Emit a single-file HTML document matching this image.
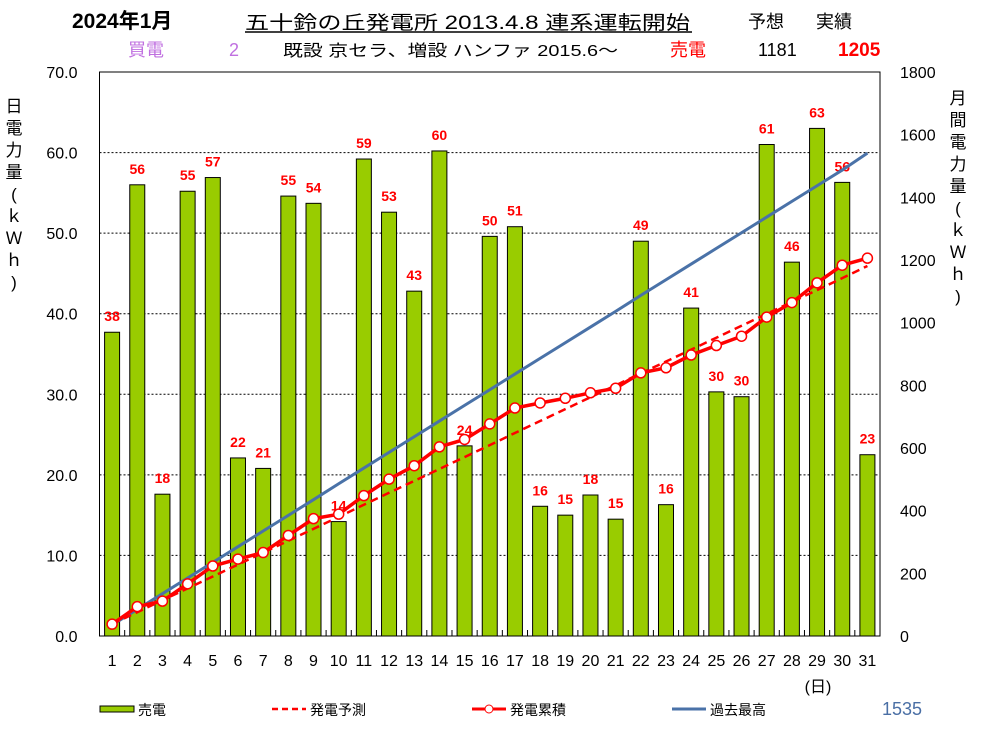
<!DOCTYPE html>
<html><head><meta charset="utf-8"><style>
body{margin:0;background:#fff;}
svg{display:block;font-family:"Liberation Sans","Noto Sans CJK JP",sans-serif;}
</style></head><body>
<svg id="c" width="981" height="738" xmlns="http://www.w3.org/2000/svg">
<text x="72" y="28" font-size="21" font-weight="bold">2024年1月</text>
<text x="245" y="29" font-size="19" textLength="445" lengthAdjust="spacingAndGlyphs">五十鈴の丘発電所  2013.4.8  連系運転開始</text>
<line x1="245" y1="32" x2="692" y2="32" stroke="#000" stroke-width="1.5"/>
<text x="748" y="28" font-size="18">予想</text>
<text x="816" y="28" font-size="18">実績</text>
<text x="128" y="56" font-size="18" fill="#c070e0">買電</text>
<text x="229" y="56" font-size="18" fill="#c070e0">2</text>
<text x="283" y="56" font-size="16" textLength="335" lengthAdjust="spacingAndGlyphs">既設  京セラ、増設  ハンファ  2015.6～</text>
<text x="670" y="56" font-size="18" fill="#f00">売電</text>
<text x="758" y="56" font-size="18">1181</text>
<text x="838" y="56" font-size="19" font-weight="bold" fill="#f00">1205</text>
<g id="plot"></g>
<text x="882" y="715" font-size="18" fill="#4a6fa5">1535</text>
</svg>
<script>
const days=[1,2,3,4,5,6,7,8,9,10,11,12,13,14,15,16,17,18,19,20,21,22,23,24,25,26,27,28,29,30,31];
const daily=[37.7,56,17.6,55.2,56.9,22.1,20.8,54.6,53.7,14.2,59.2,52.6,42.8,60.2,23.6,49.6,50.8,16.1,15,17.5,14.5,49,16.3,40.7,30.3,29.7,61,46.4,63,56.3,22.5];
const cumulative=[37.7,93.7,111.3,166.5,223.4,245.5,266.3,320.9,374.6,388.8,448,500.6,543.4,603.6,627.2,676.8,727.6,743.7,758.7,776.2,790.7,839.7,856,896.7,927,956.7,1017.7,1064.1,1127.1,1183.4,1205.9];
const forecast=[38,76,114,152,190,228,266,304,342,380,419,457,495,533,571,609,648,686,724,762,800,838,876,914,952,990,1028,1066,1104,1142,1181];
const pastMax=[35,85,135,185,235,285,335,385,435,486,536,586,636,686,736,786,836,886,936,986,1036,1087,1137,1187,1237,1287,1337,1387,1437,1487,1541];
const leftTicks=[0,10,20,30,40,50,60,70];
const rightTicks=[0,200,400,600,800,1000,1200,1400,1600,1800];
const L=99.5,R=880,T=72,B=636,step=(R-L)/31;
const x=d=>L+step*(d-0.5);
const yl=v=>B-(v/70)*(B-T);
const yr=v=>B-(v/1800)*(B-T);
const NS="http://www.w3.org/2000/svg";
const g=document.getElementById('plot');
function mk(t,a,txt){const e=document.createElementNS(NS,t);for(const k in a)e.setAttribute(k,a[k]);if(txt!==undefined)e.textContent=txt;g.appendChild(e);return e;}
leftTicks.forEach(v=>{
 if(v>0){const e=mk('line',{x1:L,x2:R,y1:yl(v),y2:yl(v),stroke:'#000','stroke-width':1,'stroke-dasharray':'2,2'});
 
 }
 const t=mk('text',{x:L-22,y:yl(v)+6,'font-size':16,'text-anchor':'end'},v.toFixed(1));
 
 
});
rightTicks.forEach(v=>{
 const t=mk('text',{x:R+20,y:yr(v)+6,'font-size':16},String(v));
 
 
});
days.forEach((d,i)=>{
 const bw=15,v=daily[i];
 const r=mk('rect',{x:x(d)-bw/2,y:yl(v),width:bw,height:B-yl(v),fill:'#99cc00',stroke:'#000','stroke-width':1});
 
 
 const t=mk('text',{x:x(d),y:yl(v)-11,'font-size':14,'font-weight':'bold',fill:'#f00','text-anchor':'middle'},String(Math.round(v)));
 
 
 const xl=mk('text',{x:x(d),y:B+30,'font-size':16,'text-anchor':'middle'},String(d));
 
 
 if(i>0){const tk=mk('line',{x1:L+step*i,x2:L+step*i,y1:B,y2:B-6,stroke:'#000'});
 
 }
});
const frame=mk('rect',{x:L,y:T,width:R-L,height:B-T,fill:'none',stroke:'#000','stroke-width':1});


const pb=mk('polyline',{points:days.map((d,i)=>x(d)+','+yr(pastMax[i])).join(' '),fill:'none',stroke:'#4a72a8','stroke-width':3});


const pf=mk('polyline',{points:days.map((d,i)=>x(d)+','+yr(forecast[i])).join(' '),fill:'none',stroke:'#f00','stroke-width':2.5,'stroke-dasharray':'8,5'});


const pc=mk('polyline',{points:days.map((d,i)=>x(d)+','+yr(cumulative[i])).join(' '),fill:'none',stroke:'#f00','stroke-width':3.5});


days.forEach((d,i)=>{
 const c=mk('circle',{cx:x(d),cy:yr(cumulative[i]),r:5,fill:'#fff',stroke:'#f00','stroke-width':1.5});
 
 
});
const lt="日電力量(ｋＷｈ)".split(''),rt="月間電力量(ｋＷｈ)".split('');
lt.forEach((ch,i)=>{const t=mk('text',{x:14,y:112+i*22,'font-size':17,'text-anchor':'middle'},ch);
 
 });
rt.forEach((ch,i)=>{const t=mk('text',{x:958,y:104+i*22,'font-size':17,'text-anchor':'middle'},ch);
 
 });
const du=mk('text',{x:818,y:692,'font-size':16,'text-anchor':'middle'},'(日)');


const lg=[[100,'売電','bar'],[272,'発電予測','dash'],[472,'発電累積','cum'],[672,'過去最高','blue']];
lg.forEach(([lx,lab,k])=>{
 let e;
 if(k==='bar')e=mk('rect',{x:lx,y:706,width:34,height:6,fill:'#99cc00',stroke:'#000'});
 else if(k==='dash')e=mk('line',{x1:lx,x2:lx+34,y1:709,y2:709,stroke:'#f00','stroke-width':2.5,'stroke-dasharray':'6,4'});
 else if(k==='cum'){e=mk('line',{x1:lx,x2:lx+34,y1:709,y2:709,stroke:'#f00','stroke-width':3});
  const c=mk('circle',{cx:lx+17,cy:709,r:4,fill:'#fff',stroke:'#f00'});
  
  }
 else e=mk('line',{x1:lx,x2:lx+34,y1:709,y2:709,stroke:'#4a72a8','stroke-width':3});
 
 
 const t=mk('text',{x:lx+38,y:715,'font-size':14},lab);
 
 
});
</script>
</body></html>
